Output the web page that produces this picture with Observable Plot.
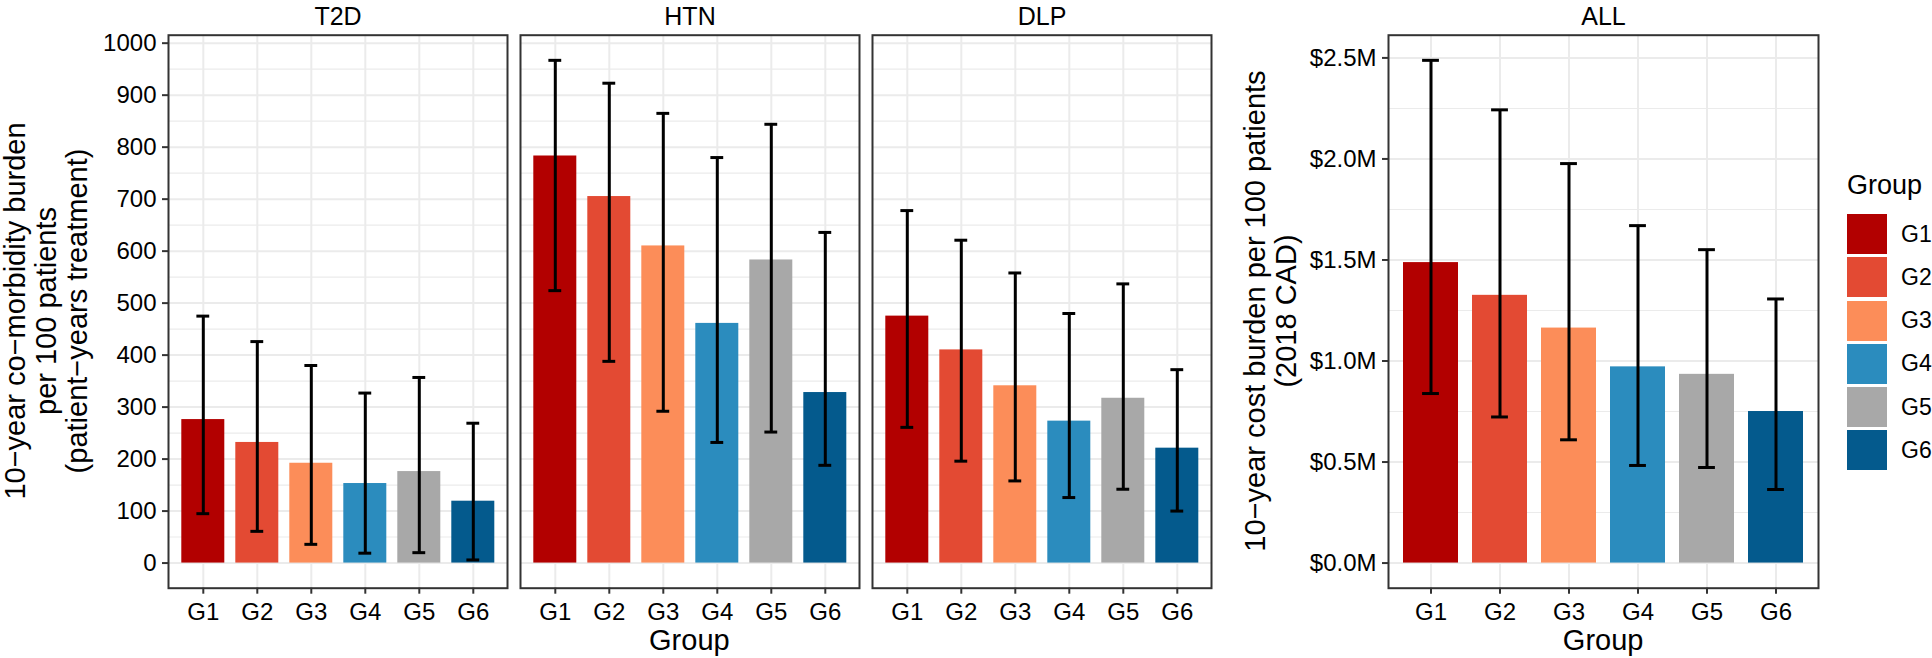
<!DOCTYPE html>
<html>
<head>
<meta charset="utf-8">
<script src="https://cdn.jsdelivr.net/npm/d3@7"></script>
<script src="https://cdn.jsdelivr.net/npm/@observablehq/plot@0.6"></script>
<style>
  html, body { margin: 0; padding: 0; background: #fff; }
  #wrap { position: relative; width: 1932px; height: 658px; overflow: hidden; background: #fff;
          font-family: "Liberation Sans", Arial, Helvetica, sans-serif; color: #000; }
  .ytitle { position: absolute; transform: translate(-50%, -50%) rotate(-90deg); white-space: pre;
            text-align: center; font-size: 29px; line-height: 31px; }
  .xtitle { position: absolute; transform: translateX(-50%); font-size: 29px; line-height: 29px; white-space: pre; }
  #legend { position: absolute; left: 1847px; top: 172px; }
  #legend .ttl { font-size: 27px; line-height: 27px; margin-bottom: 15px; }
  #legend .row { display: flex; align-items: center; height: 40px; margin-bottom: 3.3px; }
  #legend .sw { width: 40px; height: 40px; }
  #legend .lab { font-size: 23px; margin-left: 14px; }
</style>
</head>
<body>
<div id="wrap"></div>
<script>
(function () {
// ---------------- data ----------------
const groups = ["G1", "G2", "G3", "G4", "G5", "G6"];
const groupColors = ["#b20000", "#e34a33", "#fc8d59", "#2b8cbe", "#a8a8a8", "#045a8d"];
const conditions = ["T2D", "HTN", "DLP"];

const t2dMean = [276, 232, 192, 153, 176, 119];
const t2dLow  = [95, 61, 36, 19, 20, 6];
const t2dHigh = [475, 426, 380, 327, 357, 269];

const htnMean = [783, 705, 610, 461, 583, 328];
const htnLow  = [524, 388, 292, 232, 252, 188];
const htnHigh = [967, 923, 865, 780, 844, 636];

const dlpMean = [475, 410, 341, 273, 317, 221];
const dlpLow  = [261, 196, 158, 126, 142, 100];
const dlpHigh = [678, 621, 558, 480, 537, 372];

const allMean = [1.487, 1.325, 1.163, 0.971, 0.934, 0.750];
const allLow  = [0.839, 0.723, 0.610, 0.483, 0.473, 0.364];
const allHigh = [2.488, 2.243, 1.977, 1.670, 1.551, 1.307];

const burdenTicks = [0, 100, 200, 300, 400, 500, 600, 700, 800, 900, 1000];
const costTicks = [0, 0.5, 1.0, 1.5, 2.0, 2.5];

const yTitleLeft = "10\u2212year co\u2212morbidity burden\nper 100 patients\n(patient\u2212years treatment)";
const yTitleRight = "10\u2212year cost burden per 100 patients\n(2018 CAD)";
const xTitle = "Group";
const legendTitle = "Group";
const allTitle = "ALL";

// ---------------- tables ----------------
const series = {T2D: [t2dMean, t2dLow, t2dHigh], HTN: [htnMean, htnLow, htnHigh], DLP: [dlpMean, dlpLow, dlpHigh]};
const rows = [];
for (const c of conditions) {
  const [m, lo, hi] = series[c];
  groups.forEach((g, i) => rows.push({cond: c, group: g, mean: m[i], low: lo[i], high: hi[i]}));
}
const allRows = groups.map((g, i) => ({cond: allTitle, group: g, mean: allMean[i], low: allLow[i], high: allHigh[i]}));

const mid = (t) => t.slice(1).map((v, i) => (v + t[i]) / 2);
const burdenMinor = mid(burdenTicks);
const costMinor = mid(costTicks);

const FONT = '"Liberation Sans", Arial, Helvetica, sans-serif';
const GRID = "#ebebeb";

// ---------------- layout ----------------
const H = 658, panelTop = 34.7, panelBottom = 587.7;
const leftPanelL = 166.7, panelW = 340, gap = 12.65;
const leftW = 1240;
const leftRight = leftPanelL + 3 * panelW + 2 * gap;

const yMaxL = d3.max(rows, d => d.high);
const yDomL = [-0.05 * yMaxL, 1.05 * yMaxL];
const yMaxA = d3.max(allRows, d => d.high);
const yDomA = [-0.05 * yMaxA, 1.05 * yMaxA];

const capFrac = 0.25, barFrac = 0.8, outerPad = 0.2;

function makePlot({data, fxDomain, width, mLeft, mRight, pW, yDom, ticks, minor, fmt, pad}) {
  const step = pW / (groups.length - (1 - barFrac) + 2 * outerPad);
  const capInset = (barFrac - capFrac) / 2 * step;
  return Plot.plot({
    width, height: H,
    marginLeft: mLeft, marginRight: mRight, marginTop: panelTop, marginBottom: H - panelBottom,
    fx: {domain: fxDomain, paddingInner: pad, paddingOuter: 0, label: null},
    x: {domain: groups, paddingInner: 1 - barFrac, paddingOuter: outerPad, label: null},
    y: {domain: yDom, label: null},
    color: {domain: groups, range: groupColors},
    style: {fontFamily: FONT, color: "#000", background: "transparent", overflow: "visible"},
    marks: [
      Plot.gridY(minor, {stroke: GRID, strokeOpacity: 1, strokeWidth: 1.1}),
      Plot.gridY(ticks, {stroke: GRID, strokeOpacity: 1, strokeWidth: 2}),
      Plot.gridX(groups, {stroke: GRID, strokeOpacity: 1, strokeWidth: 2}),
      Plot.barY(data, {fx: "cond", x: "group", y: "mean", fill: "group"}),
      Plot.ruleX(data, {fx: "cond", x: "group", y1: "low", y2: "high", stroke: "#000", strokeWidth: 3}),
      Plot.tickY(data, {fx: "cond", x: "group", y: "low", stroke: "#000", strokeWidth: 3, inset: capInset}),
      Plot.tickY(data, {fx: "cond", x: "group", y: "high", stroke: "#000", strokeWidth: 3, inset: capInset}),
      Plot.frame({stroke: "#333", strokeWidth: 2}),
      Plot.axisY(ticks, {tickFormat: fmt, fontSize: 24, tickSize: 6, tickPadding: 6, stroke: "#333", strokeWidth: 2, label: null, fill: "#000"}),
      Plot.axisX(groups, {fontSize: 24, tickSize: 6, tickPadding: 9, stroke: "#333", strokeWidth: 2, label: null, fill: "#000"}),
      Plot.axisFx({anchor: "top", tickSize: 0, tickPadding: 10, fontSize: 25, label: null, fill: "#000"})
    ]
  });
}

const wrap = document.getElementById("wrap");

const leftPlot = makePlot({
  data: rows, fxDomain: conditions, width: leftW, mLeft: leftPanelL, mRight: leftW - leftRight,
  pW: panelW, yDom: yDomL, ticks: burdenTicks, minor: burdenMinor, fmt: d => String(d),
  pad: gap / (panelW + gap)
});
leftPlot.style.position = "absolute";
leftPlot.style.left = "0px";
leftPlot.style.top = "0px";
wrap.appendChild(leftPlot);

const allX0 = 1230, allPanelL = 1388, allPanelR = 1818.3, allW = 600;
const allPlot = makePlot({
  data: allRows, fxDomain: [allTitle], width: allW, mLeft: allPanelL - allX0, mRight: allW - (allPanelR - allX0),
  pW: allPanelR - allPanelL, yDom: yDomA, ticks: costTicks, minor: costMinor,
  fmt: d => "$" + d.toFixed(1) + "M", pad: 0
});
allPlot.style.position = "absolute";
allPlot.style.left = allX0 + "px";
allPlot.style.top = "0px";
wrap.appendChild(allPlot);

// ---------------- titles ----------------
function addDiv(cls, text, css) {
  const d = document.createElement("div");
  d.className = cls;
  d.textContent = text;
  Object.assign(d.style, css);
  wrap.appendChild(d);
  return d;
}
const midY = (panelTop + panelBottom) / 2;
addDiv("ytitle", yTitleLeft, {left: "46px", top: midY + "px"});
addDiv("ytitle", yTitleRight, {left: "1271px", top: midY + "px"});
addDiv("xtitle", xTitle, {left: ((leftPanelL + leftRight) / 2) + "px", top: "626px"});
addDiv("xtitle", xTitle, {left: ((allPanelL + allPanelR) / 2) + "px", top: "626px"});

// ---------------- legend (from the plot's color scale) ----------------
const cs = allPlot.scale("color");
const leg = document.createElement("div");
leg.id = "legend";
const lt = document.createElement("div");
lt.className = "ttl";
lt.textContent = legendTitle;
leg.appendChild(lt);
cs.domain.forEach((g, i) => {
  const r = document.createElement("div");
  r.className = "row";
  const sw = document.createElement("div");
  sw.className = "sw";
  sw.style.background = cs.range[i];
  const lb = document.createElement("div");
  lb.className = "lab";
  lb.textContent = g;
  r.appendChild(sw); r.appendChild(lb);
  leg.appendChild(r);
});
wrap.appendChild(leg);
})();
</script>
</body>
</html>
